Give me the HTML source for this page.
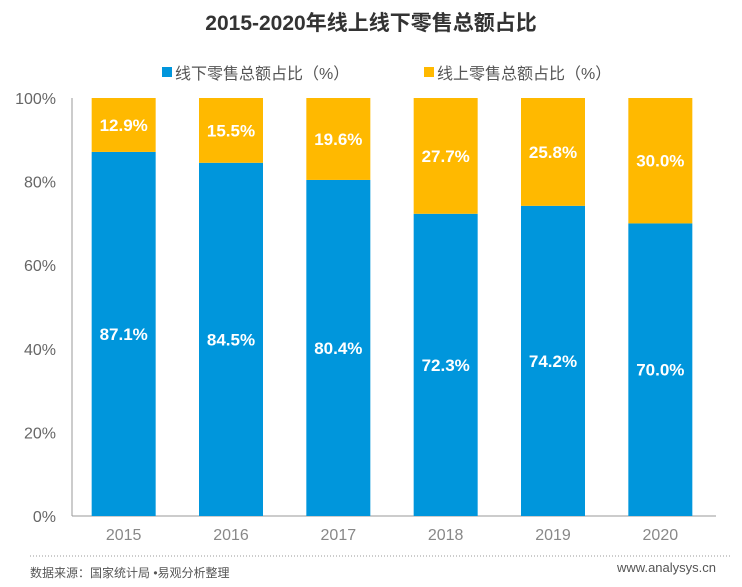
<!DOCTYPE html>
<html><head><meta charset="utf-8">
<style>
body{margin:0;background:#fff;width:742px;height:582px;overflow:hidden;font-family:"Liberation Sans","Noto Sans CJK SC",sans-serif;}
</style></head>
<body>
<svg id="chart" width="742" height="582" xmlns="http://www.w3.org/2000/svg">
<text x="371" y="30" text-anchor="middle" font-size="21" font-weight="bold" fill="#333" font-family="Liberation Sans, Noto Sans CJK SC, sans-serif">2015-2020年线上线下零售总额占比</text>
<g>
<rect x="162" y="67" width="10" height="10" fill="#0096DC"/>
<text x="175" y="79" font-size="16" fill="#555" font-family="Liberation Sans, Noto Sans CJK SC, sans-serif">线下零售总额占比（%）</text>
<rect x="424" y="67" width="10" height="10" fill="#FFB900"/>
<text x="437" y="79" font-size="16" fill="#555" font-family="Liberation Sans, Noto Sans CJK SC, sans-serif">线上零售总额占比（%）</text>
</g>
<g id="plot"></g>
<line x1="30" y1="556" x2="730" y2="556" stroke="#999" stroke-width="1" stroke-dasharray="1,2"/>
<text x="30" y="577" font-size="12" fill="#555" font-family="Liberation Sans, Noto Sans CJK SC, sans-serif">数据来源：国家统计局 •易观分析整理</text>
<text x="716" y="572" text-anchor="end" font-size="13" fill="#555">www.analysys.cn</text>
</svg>
<script>
const years=['2015','2016','2017','2018','2019','2020'];
const offline=[87.1,84.5,80.4,72.3,74.2,70.0];
const online=[12.9,15.5,19.6,27.7,25.8,30.0];
const yTicks=[0,20,40,60,80,100];
const NS='http://www.w3.org/2000/svg';
const g=document.getElementById('plot');
const x0=72,x1=716,yTop=98,yBot=516;
const step=(x1-x0)/years.length, bw=64;
const y=v=>yBot-(v/100)*(yBot-yTop);
const xc=i=>x0+step*(i+0.5)-2;
function mk(t,a){const e=document.createElementNS(NS,t);for(const k in a)e.setAttribute(k,a[k]);g.appendChild(e);return e;}
yTicks.forEach(t=>{const e=mk('text',{x:56,y:y(t)+6,'text-anchor':'end','font-size':16,fill:'#666'});e.textContent=t+'%';

});
let ax=mk('line',{x1:x0,y1:yTop,x2:x0,y2:yBot,stroke:'#999'});


let bx=mk('line',{x1:x0,y1:yBot,x2:x1,y2:yBot,stroke:'#999'});


years.forEach((yr,i)=>{
const cx=xc(i);
const b=mk('rect',{x:cx-bw/2,y:y(offline[i]),width:bw,height:yBot-y(offline[i]),fill:'#0096DC'});


const t=mk('rect',{x:cx-bw/2,y:y(100),width:bw,height:y(offline[i])-y(100),fill:'#FFB900'});


const l1=mk('text',{x:cx,y:(y(offline[i])+yBot)/2+6,'text-anchor':'middle','font-size':17,'font-weight':'bold',fill:'#fff'});l1.textContent=offline[i].toFixed(1)+'%';


const l2=mk('text',{x:cx,y:(y(offline[i])+y(100))/2+6,'text-anchor':'middle','font-size':17,'font-weight':'bold',fill:'#fff'});l2.textContent=online[i].toFixed(1)+'%';


const xl=mk('text',{x:cx,y:yBot+24,'text-anchor':'middle','font-size':16,fill:'#888'});xl.textContent=yr;


});
</script>
</body></html>
